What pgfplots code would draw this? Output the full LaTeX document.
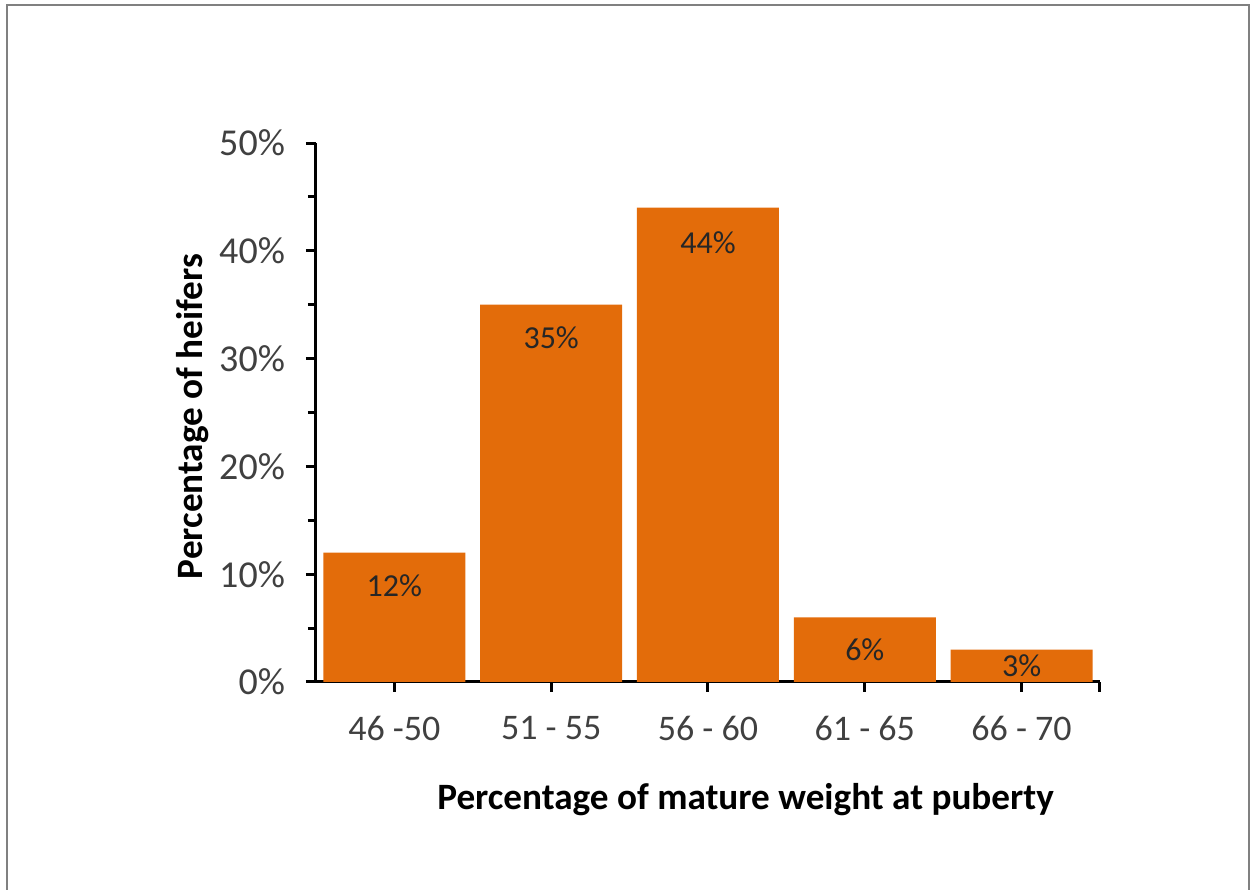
\documentclass[border=0pt]{standalone}
\usepackage{pgfplots}
\pgfplotsset{compat=1.18}
\usepackage{fontspec}
\setmainfont{Carlito}
\definecolor{barorange}{RGB}{227,108,10}
\definecolor{ticktext}{RGB}{64,64,64}
\definecolor{lbltext}{RGB}{38,38,38}
\begin{document}
\begin{tikzpicture}
\useasboundingbox (0,0) rectangle (625pt,445pt);
\draw[gray, line width=1pt] (3.4pt,0) -- (3.4pt,442.5pt) -- (624.5pt,442.5pt) -- (624.5pt,0);
\begin{axis}[
  at={(158pt,104pt)}, anchor=south west,
  scale only axis, width=392pt, height=269.5pt,
  xmin=-0.5, xmax=4.5, ymin=0, ymax=50,
  clip=false,
  axis x line=bottom, axis y line=left,
  axis line style={-, line width=1.5pt, black},
  tick align=outside,
  major tick length=5pt, minor tick length=4pt,
  every tick/.style={black, line width=1.5pt},
  xtick={0,1,2,3,4},
  xticklabels={46 -50, 51 - 55, 56 - 60, 61 - 65, 66 - 70},
  extra x ticks={4.5}, extra x tick labels={},
  ytick={0,10,20,30,40,50},
  minor ytick={5,15,25,35,45},
  yticklabel={\pgfmathprintnumber{\tick}\%},
  /pgf/number format/assume math mode=true,
  tick label style={font=\fontsize{18}{20}\selectfont, text=ticktext},
  xticklabel style={yshift=-8.5pt},
  yticklabel style={font=\fontsize{19}{21}\selectfont, xshift=-7pt},
  xlabel={\bfseries Percentage of mature weight at puberty},
  ylabel={\bfseries Percentage of heifers},
  label style={font=\fontsize{18.6}{20}\selectfont, text=black},
  xlabel style={at={(axis description cs:0.548,-0.219)}, anchor=center},
  ylabel style={at={(axis description cs:-0.157,0.4926)}, anchor=center},
]
\addplot[ybar, fill=barorange, draw=none, bar width=71pt,
  point meta=explicit,
  visualization depends on={\thisrow{dy} \as \dy},
  nodes near coords={\pgfmathprintnumber{\pgfplotspointmeta}\%},
  every node near coord/.style={anchor=center, yshift=\dy pt, font=\fontsize{16}{18}\selectfont, text=lbltext},
] table[x=x, y=y, meta=y] {
x y dy
0 12 -16.5
1 35 -16.5
2 44 -17.5
3 6 -16
4 3 -8
};
\end{axis}
\end{tikzpicture}
\end{document}
